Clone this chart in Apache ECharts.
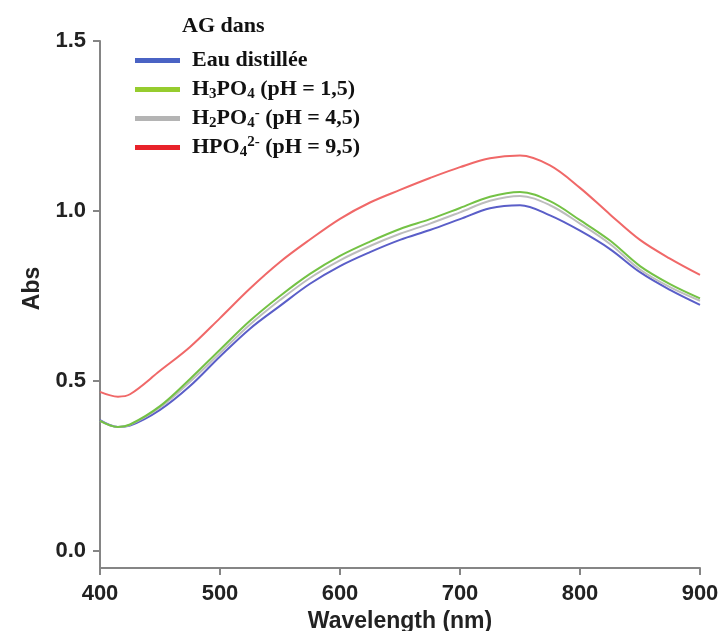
<!DOCTYPE html>
<html>
<head>
<meta charset="utf-8">
<script src="https://cdn.jsdelivr.net/npm/echarts@6/dist/echarts.min.js"></script>
<style>html,body{margin:0;padding:0;background:#fff}#c{width:721px;height:631px}</style>
</head>
<body>
<div id="c"></div>
<script>
const wavelengths = [400,415,425,450,475,500,525,550,575,600,625,650,675,700,725,750,775,800,825,850,875,900];
const eauDistillee = [0.385,0.365,0.369,0.415,0.485,0.572,0.654,0.721,0.786,0.838,0.879,0.915,0.944,0.976,1.008,1.017,0.987,0.942,0.888,0.820,0.768,0.724];
const h3po4 = [0.383,0.365,0.372,0.426,0.506,0.592,0.677,0.750,0.815,0.868,0.910,0.947,0.976,1.009,1.042,1.056,1.029,0.973,0.913,0.838,0.785,0.743];
const h2po4 = [0.383,0.365,0.371,0.422,0.498,0.582,0.666,0.738,0.803,0.855,0.897,0.933,0.963,0.996,1.030,1.044,1.017,0.963,0.903,0.828,0.776,0.736];
const hpo4 = [0.468,0.454,0.461,0.530,0.600,0.685,0.772,0.850,0.916,0.977,1.025,1.062,1.097,1.129,1.155,1.163,1.134,1.068,0.990,0.915,0.860,0.812];
const xTicks = [400,500,600,700,800,900];
const yTicks = [0,0.5,1.0,1.5];
const seriesNames = ['Eau distillée','H3PO4 (pH = 1,5)','H2PO4- (pH = 4,5)','HPO42- (pH = 9,5)'];

function pairs(ys){ return wavelengths.map((w,i)=>[w,ys[i]]); }

const legendFmt = {
  'Eau distillée': 'Eau distillée',
  'H3PO4 (pH = 1,5)': 'H{sub|3}PO{sub|4} (pH = 1,5)',
  'H2PO4- (pH = 4,5)': 'H{sub|2}PO{sub|4}{sup|-} (pH = 4,5)',
  'HPO42- (pH = 9,5)': 'HPO{sub|4}{sup|2-} (pH = 9,5)'
};
const serif = '"Liberation Serif","Times New Roman",serif';
const sans = '"Liberation Sans",Arial,sans-serif';

const chart = echarts.init(document.getElementById('c'));
chart.setOption({
  animation: false,
  backgroundColor: '#fff',
  title: {
    text: 'AG dans', left: 182, top: 15, padding: 0,
    textStyle: {fontFamily: serif, fontWeight: 'bold', fontSize: 22, color: '#111'}
  },
  legend: {
    orient: 'vertical', left: 135, top: 46, itemGap: 0, padding: 0,
    icon: 'rect', itemWidth: 45, itemHeight: 5,
    data: [
      {name: seriesNames[0], itemStyle: {color: '#4a63c4'}},
      {name: seriesNames[1], itemStyle: {color: '#96cc2e'}},
      {name: seriesNames[2], itemStyle: {color: '#b4b4b4'}},
      {name: seriesNames[3], itemStyle: {color: '#e8222a'}}
    ],
    formatter: n => legendFmt[n],
    textStyle: {
      fontFamily: serif, fontWeight: 'bold', fontSize: 22, color: '#111', lineHeight: 29,
      padding: [0,0,0,7],
      rich: {
        sub: {fontFamily: serif, fontWeight: 'bold', fontSize: 15, color: '#111', padding: [9,0,0,0]},
        sup: {fontFamily: serif, fontWeight: 'bold', fontSize: 15, color: '#111', padding: [0,0,10,0]}
      }
    }
  },
  grid: {left: 100, right: 21, top: 41, bottom: 63, containLabel: false, outerBoundsMode: 'none'},
  xAxis: {
    type: 'value', min: 400, max: 900, interval: 100,
    name: 'Wavelength (nm)', nameLocation: 'middle', nameGap: 41,
    nameTextStyle: {fontFamily: sans, fontWeight: 'bold', fontSize: 23, color: '#222'},
    axisLine: {show: true, onZero: false, lineStyle: {color: '#858585', width: 2}},
    axisTick: {show: true, inside: false, length: 7, lineStyle: {color: '#858585', width: 2}},
    axisLabel: {fontFamily: sans, fontWeight: 'bold', fontSize: 22, color: '#222', margin: 15,
      customValues: xTicks},
    splitLine: {show: false}
  },
  yAxis: {
    type: 'value', min: -0.05, max: 1.5,
    name: 'Abs', nameLocation: 'middle', nameGap: 52, nameRotate: 90,
    nameTextStyle: {fontFamily: sans, fontWeight: 'bold', fontSize: 23, color: '#222', padding: [0,0,0,32]},
    axisLine: {show: true, onZero: false, lineStyle: {color: '#858585', width: 2}},
    axisTick: {show: true, length: 7, customValues: yTicks, lineStyle: {color: '#858585', width: 2}},
    axisLabel: {fontFamily: sans, fontWeight: 'bold', fontSize: 22, color: '#222', margin: 14,
      customValues: yTicks, formatter: v => v.toFixed(1)},
    splitLine: {show: false}
  },
  series: [
    {name: seriesNames[0], type: 'line', data: pairs(eauDistillee), smooth: 0.35, showSymbol: false, z: 2,
      lineStyle: {color: '#5a5ec8', width: 2}, itemStyle: {color: '#4a63c4'}},
    {name: seriesNames[2], type: 'line', data: pairs(h2po4), smooth: 0.35, showSymbol: false, z: 3,
      lineStyle: {color: '#bdbdbd', width: 2}, itemStyle: {color: '#b4b4b4'}},
    {name: seriesNames[1], type: 'line', data: pairs(h3po4), smooth: 0.35, showSymbol: false, z: 4,
      lineStyle: {color: '#74c245', width: 2}, itemStyle: {color: '#96cc2e'}},
    {name: seriesNames[3], type: 'line', data: pairs(hpo4), smooth: 0.35, showSymbol: false, z: 5,
      lineStyle: {color: '#f06868', width: 2}, itemStyle: {color: '#e8222a'}}
  ]
});
</script>
</body>
</html>
